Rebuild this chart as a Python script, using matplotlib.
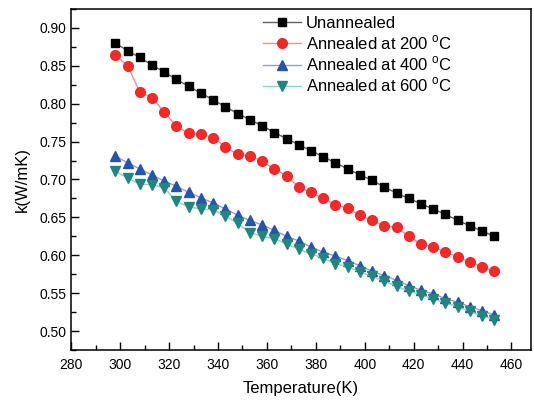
import matplotlib
matplotlib.use('Agg')
import matplotlib.pyplot as plt
from matplotlib.ticker import MultipleLocator

plt.rcParams['font.family'] = ['Liberation Sans', 'DejaVu Sans']
plt.rcParams['mathtext.fontset'] = 'custom'
plt.rcParams['mathtext.rm'] = 'Liberation Sans'

# temperature points, 298 K to 453 K
temperature = list(range(298, 454, 5))

k_unannealed = [0.880, 0.870, 0.861, 0.851, 0.842, 0.832, 0.823, 0.814, 0.805, 0.796,
                0.787, 0.779, 0.771, 0.762, 0.754, 0.746, 0.738, 0.730, 0.722, 0.714,
                0.706, 0.699, 0.690, 0.682, 0.675, 0.668, 0.661, 0.654, 0.646, 0.639,
                0.632, 0.625]
k_200 = [0.864, 0.850, 0.816, 0.808, 0.789, 0.770, 0.761, 0.760, 0.755, 0.743,
         0.733, 0.731, 0.724, 0.714, 0.705, 0.690, 0.683, 0.675, 0.667, 0.662,
         0.653, 0.646, 0.639, 0.637, 0.625, 0.615, 0.611, 0.604, 0.598, 0.591,
         0.585, 0.579]
k_400 = [0.731, 0.722, 0.714, 0.706, 0.698, 0.691, 0.683, 0.676, 0.669, 0.661,
         0.653, 0.646, 0.640, 0.633, 0.625, 0.619, 0.611, 0.604, 0.599, 0.593,
         0.586, 0.579, 0.573, 0.567, 0.560, 0.554, 0.549, 0.543, 0.538, 0.532,
         0.527, 0.521]
k_600 = [0.711, 0.702, 0.694, 0.693, 0.689, 0.671, 0.664, 0.661, 0.660, 0.652,
         0.642, 0.630, 0.625, 0.622, 0.615, 0.608, 0.602, 0.596, 0.589, 0.585,
         0.578, 0.572, 0.566, 0.559, 0.553, 0.548, 0.542, 0.537, 0.532, 0.526,
         0.520, 0.515]

labels = ['Unannealed',
          r'Annealed at 200 $^{\mathrm{o}}$C',
          r'Annealed at 400 $^{\mathrm{o}}$C',
          r'Annealed at 600 $^{\mathrm{o}}$C']

fig = plt.figure(figsize=(5.34, 4.03), dpi=100)
ax = fig.add_axes([0.1335, 0.1315, 0.861, 0.8462])

ax.plot(temperature, k_unannealed, color='#606060', lw=1, marker='s', ms=5.8,
        mfc='black', mec='black', label=labels[0])
ax.plot(temperature, k_200, color='#f29090', lw=1, marker='o', ms=7,
        mfc='#ee2a2a', mec='#ee2a2a', label=labels[1])
ax.plot(temperature, k_400, color='#9a9ad8', lw=1, marker='^', ms=7,
        mfc='#2554a8', mec='#2554a8', label=labels[2])
ax.plot(temperature, k_600, color='#8fd0c8', lw=1, marker='v', ms=7,
        mfc='#22857e', mec='#22857e', label=labels[3])

ax.set_xlim(280, 468)
ax.set_ylim(0.475, 0.925)
ax.xaxis.set_major_locator(MultipleLocator(20))
ax.xaxis.set_minor_locator(MultipleLocator(10))
ax.yaxis.set_major_locator(MultipleLocator(0.05))
ax.yaxis.set_minor_locator(MultipleLocator(0.025))
ax.yaxis.set_major_formatter(plt.FormatStrFormatter('%.2f'))
ax.tick_params(which='both', direction='in', labelsize=10, width=1)
ax.tick_params(which='major', length=6)
ax.tick_params(which='minor', length=3.5)
ax.tick_params(axis='x', pad=6)
for s in ax.spines.values():
    s.set_linewidth(1.1)

ax.set_xlabel('Temperature(K)', fontsize=12, labelpad=6)
ax.set_ylabel('k(W/mK)', fontsize=12, labelpad=7)

ax.legend(loc='upper left', bbox_to_anchor=(0.402, 1.0), frameon=False, fontsize=12,
          handlelength=2.3, handletextpad=0.3, labelspacing=0.16, borderaxespad=0)

fig.savefig('out.png', dpi=100)
